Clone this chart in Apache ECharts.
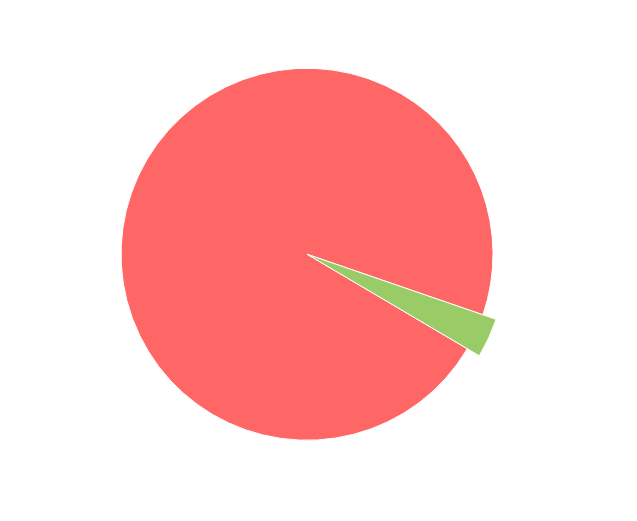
<!DOCTYPE html>
<html>
<head>
<meta charset="utf-8">
<script src="https://cdn.jsdelivr.net/npm/echarts@6/dist/echarts.min.js"></script>
<style>
  html, body { margin: 0; padding: 0; background: #fff; }
  #chart { width: 637px; height: 521px; }
</style>
</head>
<body>
<div id="chart"></div>
<script>
var names = ['B', 'A'];
var values = [3.2, 96.8];
var colors = ['#99CC66', '#FF6666'];

var chart = echarts.init(document.getElementById('chart'));
chart.setOption({
    animation: false,
    tooltip: { show: false },
    series: [{
        type: 'pie',
        center: ['48.2%', '48.8%'],
        radius: '71.4%',
        startAngle: 341,
        label: { show: false },
        labelLine: { show: false },
        itemStyle: {
            borderColor: '#fff',
            borderWidth: 1
        },
        emphasis: {
            scale: true,
            scaleSize: 14
        },
        data: names.map((n, i) => ({
            name: n,
            value: values[i],
            itemStyle: { color: colors[i] },
            emphasis: { itemStyle: { color: colors[i] } }
        }))
    }]
});
chart.dispatchAction({ type: 'highlight', seriesIndex: 0, dataIndex: 0 });
</script>
</body>
</html>
